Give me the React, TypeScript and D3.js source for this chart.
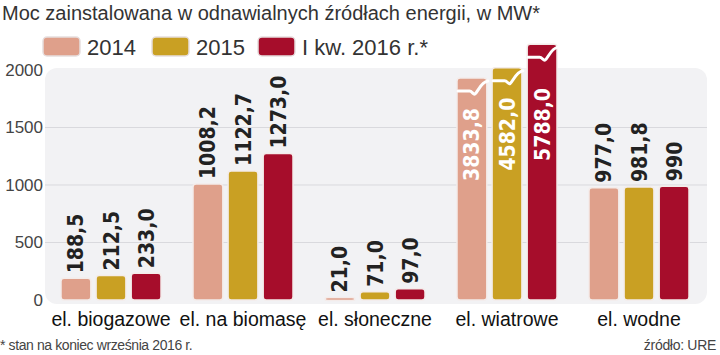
import React from "react";
import * as d3 from "d3";

const categories = ["el. biogazowe", "el. na biomasę", "el. słoneczne", "el. wiatrowe", "el. wodne"];
const seriesNames = ["2014", "2015", "I kw. 2016 r.*"];
const values2014 = [188.5, 1008.2, 21.0, 3833.8, 977.0];
const values2015 = [212.5, 1122.7, 71.0, 4582.0, 981.8];
const values2016 = [233.0, 1273.0, 97.0, 5788.0, 990];
const valueLabels2014 = ["188,5", "1008,2", "21,0", "3833,8", "977,0"];
const valueLabels2015 = ["212,5", "1122,7", "71,0", "4582,0", "981,8"];
const valueLabels2016 = ["233,0", "1273,0", "97,0", "5788,0", "990"];
// heights drawn for bars exceeding the axis (broken bars)
const brokenDrawnHeights = [1930, 2020, 2225];
const yTicks = [0, 500, 1000, 1500, 2000];
const colors = ["#dfa08b", "#c9a023", "#a60d2b"];

const W = 720;
const H = 355;

export default function App() {
  const x0 = d3.scaleBand<string>().domain(categories).range([45, 705]);
  const x1 = d3.scaleBand<string>().domain(seriesNames).range([16, 116]).paddingInner(0.15);
  const y = d3.scaleLinear().domain([0, 2000]).range([300, 70]);
  const allValues = [values2014, values2015, values2016];
  const allLabels = [valueLabels2014, valueLabels2015, valueLabels2016];
  const maxV = 2000;
  const valueFont = "'DejaVu Sans Condensed', 'DejaVu Sans', sans-serif";
  const textFont = "'Liberation Sans', Arial, sans-serif";
  const narrowFont = "'Liberation Sans Narrow', 'Liberation Sans', sans-serif";

  const bars: React.ReactNode[] = [];
  categories.forEach((c, ci) => {
    seriesNames.forEach((s, si) => {
      const v = allValues[si][ci];
      const broken = v > maxV;
      const drawnV = broken ? brokenDrawnHeights[si] : v;
      const bx = (x0(c) as number) + (x1(s) as number);
      const bw = x1.bandwidth();
      const top = y(drawnV);
      const h = y(0) - top;
      const cx = bx + bw / 2;
      bars.push(
        <rect
          key={`b-${ci}-${si}`}
          x={bx}
          y={top}
          width={bw}
          height={Math.max(h, 3)}
          rx={3}
          fill={colors[si]}
          stroke="#f4ecea"
          strokeWidth={1.5}
        />
      );
      if (broken) {
        const by = top + 13;
        const r = bx + bw;
        bars.push(
          <path
            key={`br-${ci}-${si}`}
            d={`M${bx + 1},${by} L${bx + bw * 0.42},${by} C${bx + bw * 0.5},${by} ${bx + bw * 0.55},${by + 4} ${bx + bw * 0.6},${by + 3} C${bx + bw * 0.7},${by + 1} ${r - 6},${top + 4} ${r + 1},${top + 3}`}
            fill="none"
            stroke="#fff"
            strokeWidth={3}
            strokeLinecap="round"
            strokeLinejoin="round"
          />
        );
        bars.push(
          <text
            key={`t-${ci}-${si}`}
            transform={`translate(${cx},${Math.max(top + 30, 88)}) rotate(-90)`}
            textAnchor="end"
            dy="0.36em"
            fontFamily={valueFont}
            fontWeight="bold"
            fontSize={21}
            fill="#fff"
          >
            {allLabels[si][ci]}
          </text>
        );
      } else {
        bars.push(
          <text
            key={`t-${ci}-${si}`}
            transform={`translate(${cx},${top - 5}) rotate(-90)`}
            textAnchor="start"
            dy="0.36em"
            fontFamily={valueFont}
            fontWeight="bold"
            fontSize={21}
            fill="#222"
          >
            {allLabels[si][ci]}
          </text>
        );
      }
    });
  });

  const legendX = [43, 152, 258];

  return (
    <svg width={W} height={H} style={{ display: "block", position: "absolute", left: 0, top: 0 }}>
      <rect width={W} height={H} fill="#fff" />
      <text x={2} y={20} fontFamily={textFont} fontSize={20} fill="#333">
        Moc zainstalowana w odnawialnych źródłach energii, w MW*
      </text>
      {seriesNames.map((s, i) => (
        <g key={s}>
          <rect x={legendX[i]} y={37} width={37} height={19} rx={4} fill={colors[i]} stroke="#e6dede" strokeWidth={1.5} />
          <text x={legendX[i] + 44} y={55} fontFamily={textFont} fontSize={22} fill="#333">
            {s}
          </text>
        </g>
      ))}
      <rect x={45} y={68} width={662} height={236} rx={12} fill="#f2f2f4" />
      {yTicks.slice(1, -1).map((t) => (
        <line key={t} x1={45} x2={707} y1={y(t)} y2={y(t)} stroke="#d9d9dd" strokeWidth={1} />
      ))}
      {yTicks.map((t) => (
        <text
          key={`yl-${t}`}
          x={43}
          y={y(t)}
          dy="0.35em"
          textAnchor="end"
          fontFamily={textFont}
          fontSize={17}
          fill="#444"
        >
          {t}
        </text>
      ))}
      {bars}
      {categories.map((c) => (
        <text
          key={c}
          x={(x0(c) as number) + x0.bandwidth() / 2}
          y={326}
          textAnchor="middle"
          fontFamily={textFont}
          fontSize={19.5}
          fill="#111"
        >
          {c}
        </text>
      ))}
      <text x={0} y={350} fontFamily={narrowFont} fontSize={14} letterSpacing={-0.4} fill="#444">
        * stan na koniec września 2016 r.
      </text>
      <text x={716} y={350} textAnchor="end" fontFamily={narrowFont} fontSize={14} letterSpacing={-0.3} fill="#444">
        źródło: URE
      </text>
    </svg>
  );
}
